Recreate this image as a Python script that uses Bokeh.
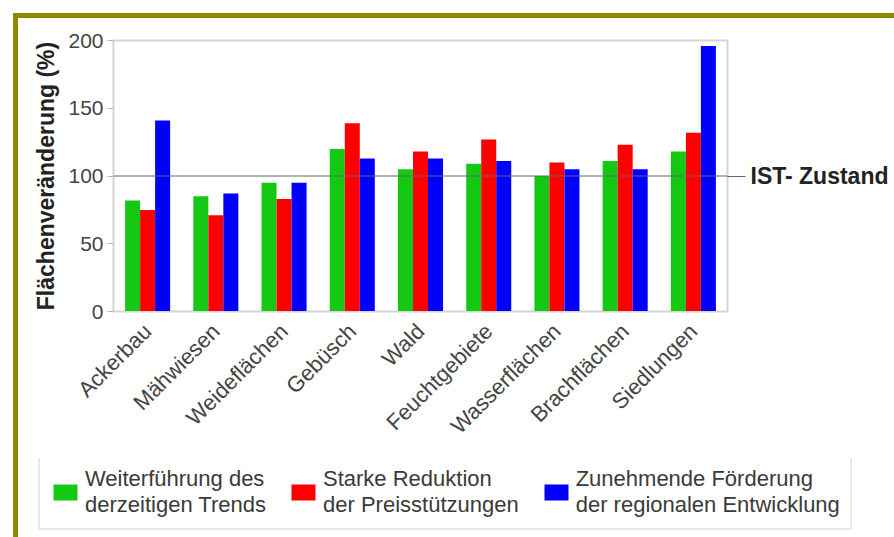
import math
from bokeh.plotting import figure
from bokeh.layouts import column
from bokeh.models import (ColumnDataSource, FactorRange, Range1d, Legend, LegendItem,
                          Span, LinearAxis, FixedTicker)
from bokeh.transform import dodge
from bokeh.embed import file_html
from bokeh.resources import INLINE

categories = ["Ackerbau", "Mähwiesen", "Weideflächen", "Gebüsch", "Wald",
              "Feuchtgebiete", "Wasserflächen", "Brachflächen", "Siedlungen"]
trend = [82, 85, 95, 120, 105, 109, 100, 111, 118]
reduktion = [75, 71, 83, 139, 118, 127, 110, 123, 132]
foerderung = [141, 87, 95, 113, 113, 111, 105, 105, 196]
series_labels = ["Weiterführung des\nderzeitigen Trends",
                 "Starke Reduktion\nder Preisstützungen",
                 "Zunehmende Förderung\nder regionalen Entwicklung"]
y_ticks = [0, 50, 100, 150, 200]
reference_value = 100
reference_label = "IST- Zustand"
y_title = "Flächenveränderung (%)"

FONT = "Liberation Sans"
colors = ["#14c814", "#ff0000", "#0000ff"]
OLIVE = "#8a8a00"

src = ColumnDataSource(dict(cat=categories, trend=trend, reduktion=reduktion,
                            foerderung=foerderung))

# ---------------- chart ----------------
p = figure(width=876, height=440, x_range=FactorRange(*categories),
           y_range=Range1d(0, 200), output_backend="svg", toolbar_location=None,
           min_border_left=95, min_border_right=167, min_border_top=22,
           min_border_bottom=147)
p.frame_align = False
p.styles = {"box-shadow": f"-5px 0px 0px 0px {OLIVE}, 0px -5px 0px 0px {OLIVE}, "
                          f"-5px -5px 0px 0px {OLIVE}"}
p.background_fill_color = "white"
p.border_fill_color = "white"
p.outline_line_color = "#d4d4d4"
p.outline_line_width = 2
p.xgrid.grid_line_color = None
p.ygrid.grid_line_color = None

bw = 0.22
p.vbar(x=dodge("cat", -bw, range=p.x_range), top="trend", width=bw, source=src,
       fill_color=colors[0], line_color=None)
p.vbar(x=dodge("cat", 0, range=p.x_range), top="reduktion", width=bw, source=src,
       fill_color=colors[1], line_color=None)
p.vbar(x=dodge("cat", bw, range=p.x_range), top="foerderung", width=bw, source=src,
       fill_color=colors[2], line_color=None)

# reference line + label
p.add_layout(Span(location=reference_value, dimension="width",
                  line_color="#666666", line_width=1))
ref_axis = LinearAxis(ticker=FixedTicker(ticks=[reference_value]),
                      major_label_overrides={reference_value: reference_label},
                      axis_line_color=None, major_tick_line_color="#666666",
                      major_tick_out=18, major_tick_in=0, minor_tick_line_color=None,
                      major_label_standoff=5, major_label_text_font=FONT,
                      major_label_text_font_size="23px",
                      major_label_text_font_style="bold",
                      major_label_text_color="#222222")
p.add_layout(ref_axis, "right")

# y axis
ya = p.yaxis[0]
ya.ticker = FixedTicker(ticks=y_ticks)
ya.axis_label = y_title
ya.axis_label_text_font = FONT
ya.axis_label_text_font_size = "23px"
ya.axis_label_text_font_style = "bold"
ya.axis_label_text_color = "#222222"
ya.axis_label_standoff = 6
ya.major_label_text_font = FONT
ya.major_label_text_font_size = "21px"
ya.major_label_text_color = "#444444"
ya.major_label_standoff = 4
ya.major_tick_out = 6
ya.major_tick_in = 0
ya.minor_tick_line_color = None
ya.major_tick_line_color = "#bbbbbb"
ya.axis_line_color = "#d4d4d4"

# x axis
xa = p.xaxis[0]
xa.major_label_orientation = math.pi / 4
xa.major_label_text_font = FONT
xa.major_label_text_font_size = "22px"
xa.major_label_text_color = "#444444"
xa.major_tick_line_color = None
xa.axis_line_color = "#d4d4d4"
xa.major_label_standoff = 10
p.x_range.range_padding = 0
p.x_range.group_padding = 0

# ---------------- legend strip ----------------
q = figure(width=876, height=79, x_range=Range1d(0, 1), y_range=Range1d(0, 1),
           x_axis_type=None, y_axis_type=None, output_backend="svg",
           toolbar_location=None, min_border=0)
q.frame_align = False
q.styles = {"box-shadow": f"-5px 0px 0px 0px {OLIVE}"}
q.outline_line_color = None
q.background_fill_color = "white"
q.border_fill_color = "white"
# zero-size placeholder bars: they only provide the legend swatches
swatch = ColumnDataSource(dict(x=[0], top=[0]))
lr = [q.vbar(x="x", top="top", width=0, source=swatch, fill_color=c, line_color=None)
      for c in colors]
legend = Legend(items=[LegendItem(label=lab, renderers=[r])
                       for lab, r in zip(series_labels, lr)],
                location=(20, 7), orientation="horizontal",
                glyph_width=30, glyph_height=20, label_standoff=5, spacing=22,
                padding=10, margin=0,
                label_text_font=FONT, label_text_font_size="22px",
                label_text_line_height=1.3,
                label_text_color="#3a3a3a",
                border_line_color="#d4d4d4", border_line_width=2,
                background_fill_color="white", background_fill_alpha=1)
q.add_layout(legend, "center")

layout = column(p, q, spacing=0)
layout.margin = (18, 0, 0, 18)

open("out.html", "w").write(file_html(layout, INLINE))
